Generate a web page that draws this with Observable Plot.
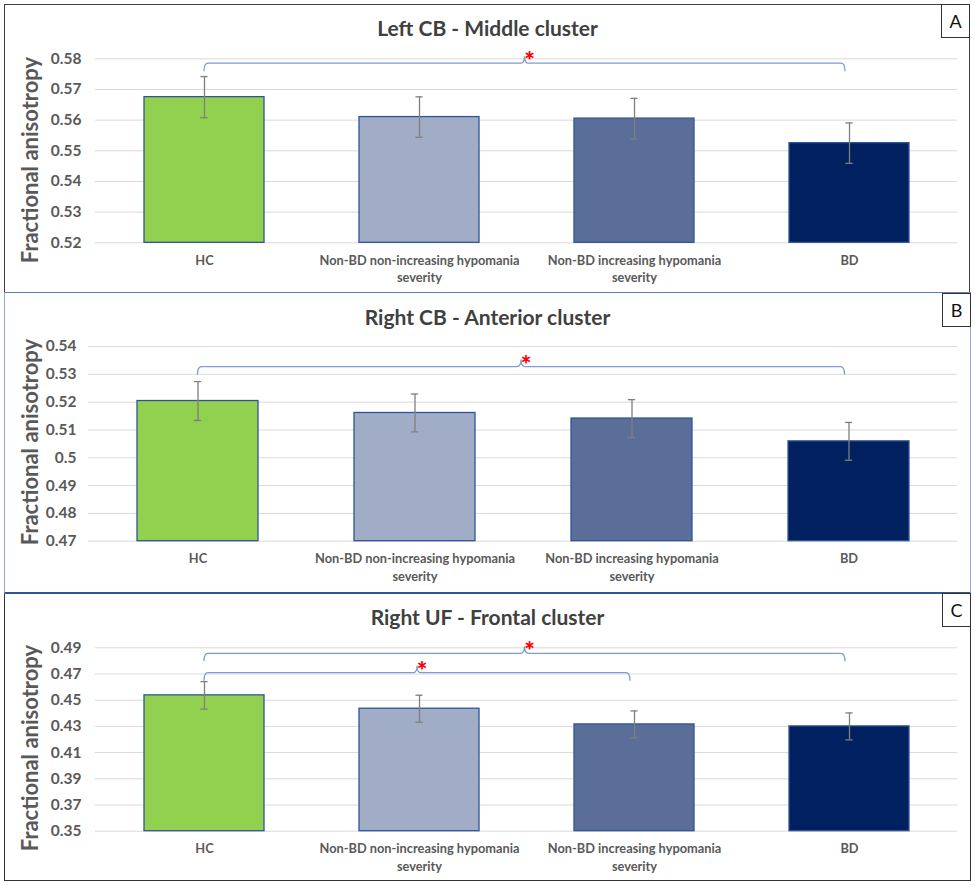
<!DOCTYPE html>
<html>
<head>
<meta charset="utf-8">
<script src="https://cdn.jsdelivr.net/npm/d3@7"></script>
<script src="https://cdn.jsdelivr.net/npm/@observablehq/plot@0.6"></script>
<style>
  body { margin: 0; background: #fff; font-family: Lato, "Open Sans", sans-serif; }
  #page { position: relative; width: 975px; height: 886px; overflow: hidden; background: #fff; }
  .panel { position: absolute; box-sizing: border-box; }
  .title { position: absolute; left: 0; width: 975px; text-align: center; font-weight: 700; font-size: 21px; line-height: 21px; color: #404040; white-space: nowrap; z-index: 5; }
  .ylab { position: absolute; font-weight: 700; font-size: 22px; line-height: 22px; color: #595959; white-space: nowrap; transform: translate(-50%, -50%) rotate(-90deg); z-index: 5; }
  .letter { position: absolute; box-sizing: border-box; border: 1.5px solid #333; background: #fff; font-size: 18px; color: #111; display: flex; align-items: center; justify-content: center; z-index: 6; }
  .chart { position: absolute; left: 4px; z-index: 2; }
</style>
</head>
<body>
<div id="page"></div>
<script>
// ---------- data ----------
const groups = ["HC", "Non-BD non-increasing hypomania severity", "Non-BD increasing hypomania severity", "BD"];
const groupLabels = ["HC", "Non-BD non-increasing hypomania\nseverity", "Non-BD increasing hypomania\nseverity", "BD"];
const barColors = ["#92d050", "#a1acc7", "#5a6e99", "#002060"];

const titleA = "Left CB - Middle cluster";
const meansA = [0.5675, 0.5610, 0.5605, 0.5525];
const errorsA = [0.0067, 0.0066, 0.0066, 0.0066];
const ticksA = [0.52, 0.53, 0.54, 0.55, 0.56, 0.57, 0.58];
const bracketsA = [{from: "HC", to: "BD", level: 0.5784}];

const titleB = "Right CB - Anterior cluster";
const meansB = [0.5204, 0.5161, 0.5141, 0.5059];
const errorsB = [0.0070, 0.0068, 0.0068, 0.0068];
const ticksB = [0.47, 0.48, 0.49, 0.50, 0.51, 0.52, 0.53, 0.54];
const bracketsB = [{from: "HC", to: "BD", level: 0.5326}];

const titleC = "Right UF - Frontal cluster";
const meansC = [0.4537, 0.4435, 0.4315, 0.4300];
const errorsC = [0.0105, 0.0103, 0.0103, 0.0103];
const ticksC = [0.35, 0.37, 0.39, 0.41, 0.43, 0.45, 0.47, 0.49];
const bracketsC = [{from: "HC", to: "BD", level: 0.4854}, {from: "HC", to: "Non-BD increasing hypomania severity", level: 0.4706}];

const yTitle = "Fractional anisotropy";
const panelLetters = ["A", "B", "C"];

// ---------- helpers ----------
const page = document.getElementById("page");
function el(cls, style, text) {
  const d = document.createElement("div");
  d.className = cls;
  Object.assign(d.style, style);
  if (text != null) d.textContent = text;
  page.appendChild(d);
  return d;
}

function bracketMark(brackets) {
  return (index, scales) => {
    const x = scales.x, y = scales.y;
    const bw = typeof x.bandwidth === "function" ? x.bandwidth() : (x.bandwidth || 0);
    const cx = (g) => x(g) + bw / 2;
    const g = d3.create("svg:g");
    for (const b of brackets) {
      const x1 = cx(b.from), x2 = cx(b.to) - 4, yl = y(b.level);
      const xm = (x1 + x2) / 2, r = 4, d = 8, h = 7;
      const path = `M${x1},${yl + d} Q${x1},${yl} ${x1 + r},${yl} L${xm - r},${yl} Q${xm},${yl} ${xm},${yl - h} Q${xm},${yl} ${xm + r},${yl} L${x2 - r},${yl} Q${x2},${yl} ${x2},${yl + d}`;
      g.append("path").attr("d", path).attr("fill", "none").attr("stroke", "#7f9ad6").attr("stroke-width", 1.3);
      g.append("text").attr("x", xm + 5).attr("y", yl + 7).attr("fill", "#ff0000")
        .attr("font-size", 25).attr("font-weight", 900).attr("font-family", "Lato, sans-serif").text("*");
    }
    return g.node();
  };
}

function panelChart({means, errors, ticks, brackets, top, height, marginTop, marginBottom, marginLeft, tickPad}) {
  const data = groups.map((g, i) => ({group: g, mean: means[i], err: errors[i], color: barColors[i]}));
  const width = 966, marginRight = 13;
  const step = (width - marginLeft - marginRight) / groups.length;
  const pad = 0.444;
  const bw = step * (1 - pad);
  const capInset = (bw - 7) / 2;
  const yMin = ticks[0], yMax = ticks[ticks.length - 1];
  const svg = Plot.plot({
    width, height, marginTop, marginBottom, marginLeft, marginRight,
    style: {background: "transparent", fontFamily: "Lato, sans-serif", overflow: "visible"},
    x: {domain: groups, paddingInner: pad, paddingOuter: pad / 2, label: null},
    y: {domain: [yMin, yMax], label: null},
    color: {type: "identity"},
    marks: [
      Plot.gridY(ticks, {stroke: "#d9d9d9", strokeOpacity: 1, strokeWidth: 1}),
      Plot.barY(data, {x: "group", y1: () => yMin, y2: "mean", fill: "color", stroke: "#2f5597", strokeWidth: 1.3}),
      Plot.ruleX(data, {x: "group", y1: d => d.mean - d.err, y2: d => d.mean + d.err, stroke: "#7f7f7f", strokeWidth: 1.3}),
      Plot.tickY(data, {x: "group", y: d => d.mean + d.err, stroke: "#7f7f7f", strokeWidth: 1.3, insetLeft: capInset, insetRight: capInset}),
      Plot.tickY(data, {x: "group", y: d => d.mean - d.err, stroke: "#7f7f7f", strokeWidth: 1.3, insetLeft: capInset, insetRight: capInset}),
      Plot.axisY(ticks, {tickSize: 0, tickPadding: tickPad, fontSize: 15.5, fontWeight: 700, color: "#595959", label: null,
        tickFormat: d => String(+d.toFixed(2))}),
      Plot.axisX({tickSize: 0, tickPadding: 9, fontSize: 12.8, fontWeight: 700, color: "#595959", label: null, lineHeight: 1.4,
        tickFormat: d => groupLabels[groups.indexOf(d)]}),
      bracketMark(brackets)
    ]
  });
  svg.classList.add("chart");
  svg.style.top = top + "px";
  page.appendChild(svg);
}

// ---------- panels (borders) ----------
el("panel", {left: "4px", top: "4px", width: "966px", height: "289px", border: "1.5px solid #3f3f3f", zIndex: 3});
el("panel", {left: "4px", top: "592px", width: "967px", height: "289px", border: "1.5px solid #333", borderTop: "2px solid #2f5597", zIndex: 3});
el("panel", {left: "4px", top: "292px", width: "967px", height: "302px", border: "1.5px solid #8eaadb", borderTop: "1.5px solid #5b7fc7", borderBottom: "2px solid #2f5597", zIndex: 4});

// ---------- charts ----------
panelChart({means: meansA, errors: errorsA, ticks: ticksA, brackets: bracketsA, top: 4, height: 288, marginTop: 54.3, marginBottom: 49.7, marginLeft: 91, tickPad: 14});
panelChart({means: meansB, errors: errorsB, ticks: ticksB, brackets: bracketsB, top: 293, height: 299, marginTop: 53, marginBottom: 51.3, marginLeft: 84, tickPad: 12});
panelChart({means: meansC, errors: errorsC, ticks: ticksC, brackets: bracketsC, top: 593, height: 287, marginTop: 54.3, marginBottom: 49.3, marginLeft: 91, tickPad: 14});

// ---------- titles, axis titles, letters ----------
el("title", {top: "17px"}, titleA);
el("title", {top: "306px"}, titleB);
el("title", {top: "606px"}, titleC);
el("ylab", {left: "30px", top: "160px"}, yTitle);
el("ylab", {left: "30px", top: "442px"}, yTitle);
el("ylab", {left: "30px", top: "748px"}, yTitle);
el("letter", {left: "941px", top: "4px", width: "29px", height: "34px"}, panelLetters[0]);
el("letter", {left: "942px", top: "293px", width: "29px", height: "34px"}, panelLetters[1]);
el("letter", {left: "942px", top: "593px", width: "29px", height: "34px"}, panelLetters[2]);
</script>
</body>
</html>
